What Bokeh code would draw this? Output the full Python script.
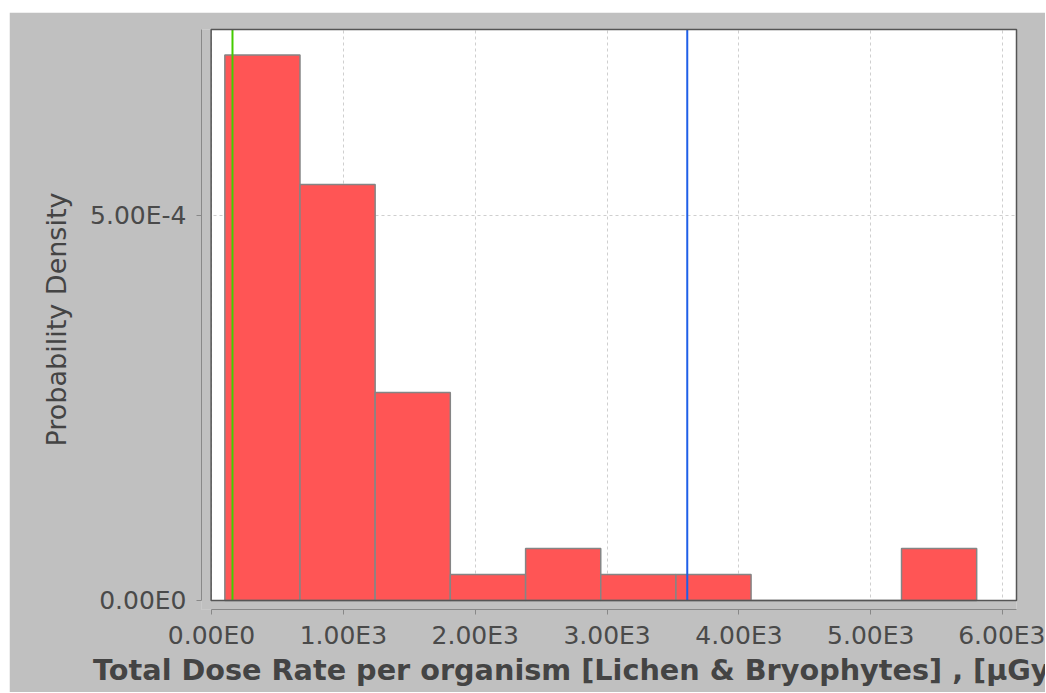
from bokeh.plotting import figure
from bokeh.models import FixedTicker, Range1d
from bokeh.embed import file_html
from bokeh.resources import INLINE

# ---------------- data ----------------
bin_left = [101, 671, 1241, 1811, 2382, 2952, 3522, 4092, 4663, 5233]
bin_right = [671, 1241, 1811, 2382, 2952, 3522, 4092, 4663, 5233, 5803]
density = [7.08e-4, 5.40e-4, 2.70e-4, 3.37e-5, 6.75e-5, 3.37e-5, 3.37e-5, 0.0, 0.0, 6.75e-5]
green_x = [159]
blue_x = [3608]
x_ticks = [0, 1000, 2000, 3000, 4000, 5000, 6000]
x_tick_labels = ["0.00E0", "1.00E3", "2.00E3", "3.00E3", "4.00E3", "5.00E3", "6.00E3"]
y_ticks = [0.0, 0.0005]
y_tick_labels = ["0.00E0", "5.00E-4"]
x_label = "Total Dose Rate per organism [Lichen & Bryophytes] , [\u00b5Gy h-1]"
y_label = "Probability Density"

# ---------------- layout constants ----------------
X_LO, X_HI = -3, 6105          # white data area
Y_LO, Y_HI = 0.0, 7.41e-4
X_START = -76                  # frame incl. axis offset gap
Y_START = -1.17e-5
BG = "#c0c0c0"
FONT = "DejaVu Sans"

p = figure(width=1036, height=680, output_backend="svg", toolbar_location=None,
           x_range=Range1d(X_START, X_HI), y_range=Range1d(Y_START, Y_HI),
           min_border_left=192, min_border_right=29, min_border_top=17, min_border_bottom=83,
           background_fill_color=BG, border_fill_color=BG, outline_line_color=None)
p.margin = (12, 0, 0, 9)

# white data area (below grid)
p.quad(left=[X_LO], right=[X_HI], bottom=[Y_LO], top=[Y_HI], fill_color="white",
       line_color=None, level="image")

# grids
p.xgrid.ticker = FixedTicker(ticks=x_ticks)
p.ygrid.ticker = FixedTicker(ticks=y_ticks)
for g in (p.xgrid, p.ygrid):
    g.grid_line_color = "#cfcfcf"
    g.grid_line_dash = "3 3"
    g.grid_line_width = 1

# gray gap strips between data area and offset axes
p.quad(left=[X_START, X_START], right=[X_LO, X_HI], bottom=[Y_START, Y_START],
       top=[Y_HI, Y_LO], fill_color=BG, line_color=None)

# histogram bars
p.quad(left=bin_left, right=bin_right, bottom=0, top=density,
       fill_color="#ff5555", line_color="#858585", line_width=1.5)

# vertical marker lines
p.segment(x0=green_x, x1=green_x, y0=[Y_LO], y1=[Y_HI], line_color="#44cc00", line_width=2)
p.segment(x0=blue_x, x1=blue_x, y0=[Y_LO], y1=[Y_HI], line_color="#1f5fe8", line_width=2)

# plot area border
p.quad(left=[X_LO], right=[X_HI], bottom=[Y_LO], top=[Y_HI], fill_color=None,
       line_color="#555555", line_width=1.5, level="annotation")

# axes
p.xaxis.ticker = FixedTicker(ticks=x_ticks)
p.yaxis.ticker = FixedTicker(ticks=y_ticks)
p.xaxis.major_label_overrides = dict(zip(x_ticks, x_tick_labels))
p.yaxis.major_label_overrides = dict(zip(y_ticks, y_tick_labels))
p.xaxis.bounds = (X_LO, X_HI)
p.yaxis.bounds = (Y_LO, Y_HI)
p.xaxis.axis_label = x_label
p.yaxis.axis_label = y_label
for ax in (p.xaxis, p.yaxis):
    ax.axis_line_color = "#888888"
    ax.major_tick_line_color = "#888888"
    ax.minor_tick_line_color = None
    ax.major_tick_in = 0
    ax.major_tick_out = 5
    ax.major_label_text_font = FONT
    ax.major_label_text_font_size = "25px"
    ax.major_label_text_color = "#4a4a4a"
    ax.axis_label_text_font = FONT
    ax.axis_label_text_color = "#444444"
p.xaxis.major_label_standoff = 6
p.yaxis.major_label_standoff = 10
p.xaxis.axis_label_text_font_size = "28.7px"
p.xaxis.axis_label_text_font_style = "bold"
p.xaxis.axis_label_standoff = 0
p.yaxis.axis_label_text_font_size = "27px"
p.yaxis.axis_label_text_font_style = "normal"
p.yaxis.axis_label_standoff = 15

open("out.html", "w").write(file_html(p, INLINE))
